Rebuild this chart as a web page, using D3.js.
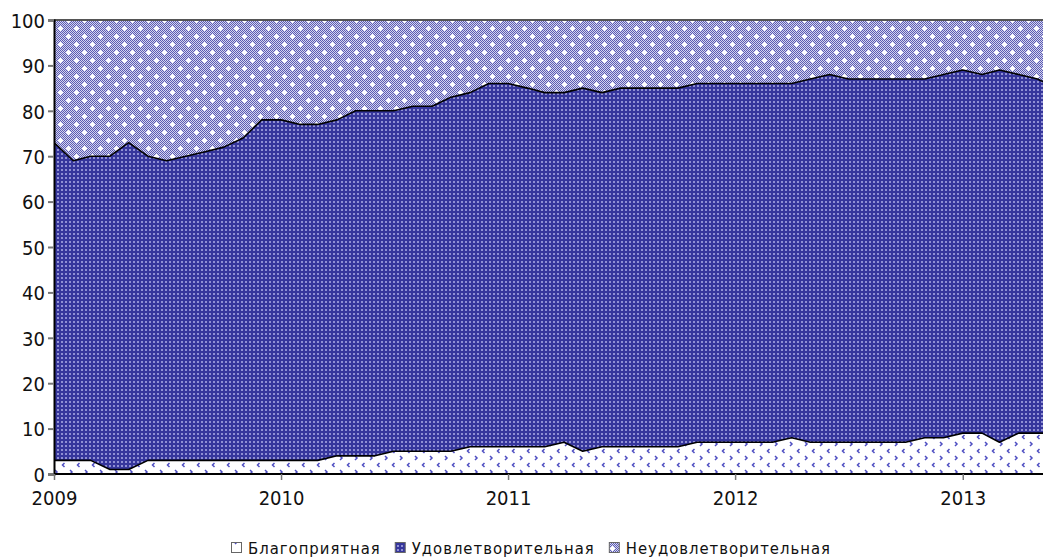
<!DOCTYPE html>
<html><head><meta charset="utf-8">
<script src="https://cdn.jsdelivr.net/npm/d3@7"></script>
<style>
body{margin:0;background:#fff}
svg{display:block}
.ax text{font-family:"DejaVu Sans Condensed","Liberation Sans",sans-serif;font-size:20px;fill:#111}
.lg text{font-family:"DejaVu Sans Condensed","Liberation Sans",sans-serif;font-size:16.5px;fill:#111;letter-spacing:1px}
</style></head><body>
<svg id="c" width="1043" height="559"></svg>
<script>
// ---- data ----
const months = ["2009-01","2009-02","2009-03","2009-04","2009-05","2009-06","2009-07","2009-08","2009-09","2009-10","2009-11","2009-12",
"2010-01","2010-02","2010-03","2010-04","2010-05","2010-06","2010-07","2010-08","2010-09","2010-10","2010-11","2010-12",
"2011-01","2011-02","2011-03","2011-04","2011-05","2011-06","2011-07","2011-08","2011-09","2011-10","2011-11","2011-12",
"2012-01","2012-02","2012-03","2012-04","2012-05","2012-06","2012-07","2012-08","2012-09","2012-10","2012-11","2012-12",
"2013-01","2013-02","2013-03","2013-04","2013-05","2013-06"];
const favorable = [3,3,3,1,1,3,3,3,3,3,3,3, 3,3,3,4,4,4,5,5,5,5,6,6, 6,6,6,7,5,6,6,6,6,6,7,7, 7,7,7,8,7,7,7,7,7,7,8,8, 9,9,7,9,9,9];
const satisfactory = [70,66,67,69,72,67,66,67,68,69,71,75, 75,74,74,74,76,76,75,76,76,78,78,80, 80,79,78,77,80,78,79,79,79,79,79,79, 79,79,79,78,80,81,80,80,80,80,79,80, 80,79,82,79,78,76];
const unsatisfactory = [27,31,30,30,27,30,31,30,29,28,26,22, 22,23,23,22,20,20,20,19,19,17,16,14, 14,15,16,16,15,16,15,15,15,15,14,14, 14,14,14,14,13,12,13,13,13,13,13,12, 11,12,11,12,13,15];
const seriesNames = ["Благоприятная","Удовлетворительная","Неудовлетворительная"];
const yTicks = [0,10,20,30,40,50,60,70,80,90,100];
const xTicks = ["2009","2010","2011","2012","2013"];

// ---- build ----
const svg = d3.select("#c");
const W = 1043, H = 559;
const m = {l:54, r:0, t:20, b:85};
const parse = d3.timeParse("%Y-%m");
const rows = months.map((mo,i)=>({date:parse(mo), f:favorable[i], s:satisfactory[i], u:unsatisfactory[i]}));
const x = d3.scaleTime().domain([new Date(2009,0,1), new Date(2013,4,10)]).range([m.l, W-m.r]);
const y = d3.scaleLinear().domain([0,100]).range([H-m.b, m.t]);

const defs = svg.append("defs");
// favorable: white with small blue chevrons
const p1 = defs.append("pattern").attr("id","pF").attr("patternUnits","userSpaceOnUse").attr("width",15).attr("height",14);
p1.append("rect").attr("width",15).attr("height",14).attr("fill","#fff");
p1.append("path").attr("d","M4.5,1 L2.5,3 L4.5,5").attr("fill","none").attr("stroke","#4e4ec2").attr("stroke-width",1.5);
p1.append("path").attr("d","M10,8 L12,10 L10,12").attr("fill","none").attr("stroke","#4e4ec2").attr("stroke-width",1.5);
// satisfactory: dark blue with light dots
const p2 = defs.append("pattern").attr("id","pS").attr("patternUnits","userSpaceOnUse").attr("width",4).attr("height",4);
p2.append("rect").attr("width",4).attr("height",4).attr("fill","#36369c");
p2.append("rect").attr("x",1).attr("y",1).attr("width",2).attr("height",2).attr("fill","#9090d4");
// unsatisfactory: checker with white crosses
const p3 = defs.append("pattern").attr("id","pU").attr("patternUnits","userSpaceOnUse").attr("width",16).attr("height",16);
p3.append("rect").attr("width",16).attr("height",16).attr("fill","#d4d4f0");
for (let i=0;i<16;i++) for (let j=0;j<16;j++) if ((i+j)%2===0)
  p3.append("rect").attr("x",i).attr("y",j).attr("width",1).attr("height",1).attr("fill","#5c5cb2");
[[4,4],[12,12]].forEach(([cx,cy])=>{
  p3.append("rect").attr("x",cx-2).attr("y",cy).attr("width",5).attr("height",1).attr("fill","#fff");
  p3.append("rect").attr("x",cx).attr("y",cy-2).attr("width",1).attr("height",5).attr("fill","#fff");
  p3.append("rect").attr("x",cx-1).attr("y",cy-1).attr("width",3).attr("height",3).attr("fill","#fff");
});
defs.append("clipPath").attr("id","clip").append("rect").attr("x",m.l).attr("y",m.t-1).attr("width",W-m.l-m.r).attr("height",H-m.b-m.t+1);

const stack = d3.stack().keys(["f","s","u"])(rows);
const fills = ["url(#pF)","url(#pS)","url(#pU)"];
const area = d3.area().x(d=>x(d.data.date)).y0(d=>y(d[0])).y1(d=>y(d[1]));
const g = svg.append("g").attr("clip-path","url(#clip)");
g.selectAll("path.a").data(stack).join("path").attr("class","a").attr("d",area).attr("fill",(d,i)=>fills[i]);
const line = d3.line().x(d=>x(d.data.date)).y(d=>y(d[1]));
g.selectAll("path.l").data(stack.slice(0,2)).join("path").attr("class","l").attr("d",line)
  .attr("fill","none").attr("stroke","#000").attr("stroke-width",1.6).attr("stroke-linejoin","round");

// top border
svg.append("line").attr("x1",m.l).attr("x2",W).attr("y1",y(100)).attr("y2",y(100)).attr("stroke","#555").attr("stroke-width",2);

// y axis
const ya = svg.append("g").attr("class","ax").attr("transform",`translate(${m.l},0)`)
  .call(d3.axisLeft(y).tickValues(yTicks).tickSize(6).tickPadding(3));
ya.select(".domain").attr("stroke","#000").attr("stroke-width",2);
ya.selectAll(".tick line").attr("stroke","#777").attr("stroke-width",2);
ya.selectAll(".tick text").attr("dy","0.36em");

// x axis
const xa = svg.append("g").attr("class","ax").attr("transform",`translate(0,${y(0)})`)
  .call(d3.axisBottom(x).tickValues(xTicks.map(t=>new Date(+t,0,1))).tickFormat(d3.timeFormat("%Y")).tickSize(6).tickPadding(11));
xa.select(".domain").attr("stroke","#000").attr("stroke-width",2).attr("d",`M${m.l},0H${W}`);
xa.selectAll(".tick line").attr("stroke","#777").attr("stroke-width",1.5);

// legend
const lg = svg.append("g").attr("class","lg");
let lx = 231;
const ly = 548;
seriesNames.forEach((n,i)=>{
  lg.append("rect").attr("x",lx+0.5).attr("y",ly-5.5).attr("width",10).attr("height",10).attr("fill",fills[i]).attr("stroke","#666").attr("stroke-width",1);
  const t = lg.append("text").attr("x",lx+17).attr("y",ly).attr("dy","0.35em").text(n);
  lx += 17 + t.node().getComputedTextLength() + 14;
});
</script>
</body></html>
